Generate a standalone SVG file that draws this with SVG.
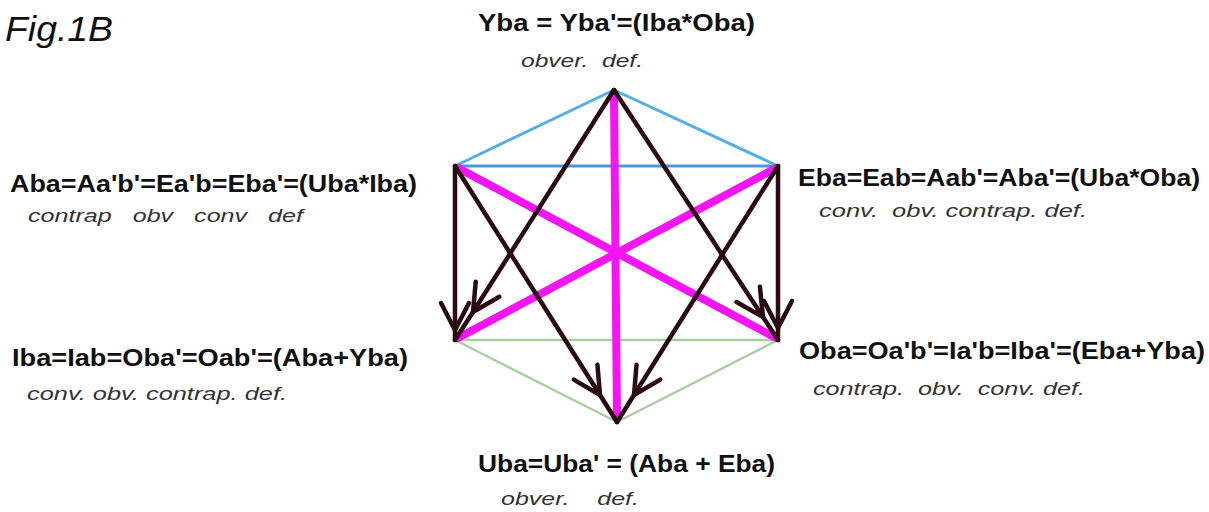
<svg xmlns="http://www.w3.org/2000/svg" width="1209" height="512" viewBox="0 0 1209 512">
  <style>
    .lbl { font-family: "Liberation Sans", Arial, sans-serif; font-weight: bold; font-size: 24px; fill: #111; }
    .sub { font-family: "Liberation Sans", Arial, sans-serif; font-style: italic; font-size: 19px; fill: #333; white-space: pre; }
    .fig { font-family: "Liberation Sans", Arial, sans-serif; font-style: italic; font-size: 35px; fill: #111; }
    .blue { stroke: #55aee6; stroke-width: 3; fill: none; stroke-linecap: round; }
    .green { stroke: #a9cfa0; stroke-width: 2.5; fill: none; stroke-linecap: round; }
    .mag { stroke: #f414f4; stroke-width: 8; fill: none; stroke-linecap: round; }
    .arr { stroke: #2a0c10; stroke-width: 4.5; fill: none; stroke-linecap: round; stroke-linejoin: round; marker-mid: url(#chev); }
  </style>
  <defs>
    <marker id="chev" markerUnits="userSpaceOnUse" orient="auto" refX="0" refY="0" markerWidth="40" markerHeight="40" viewBox="-32 -20 40 40" overflow="visible">
      <path d="M-27,-14 L0,0 L-27,14" fill="none" stroke="#2a0c10" stroke-width="4.5" stroke-linecap="round" stroke-linejoin="round"/>
    </marker>
  </defs>

  <text class="fig" x="5" y="41" textLength="108" lengthAdjust="spacingAndGlyphs">Fig.1B</text>

  <g id="connectors">
    <line class="blue" x1="614" y1="90" x2="455" y2="166"/>
    <line class="blue" x1="614" y1="90" x2="778" y2="166"/>
    <line class="blue" x1="455" y1="166" x2="778" y2="166" style="stroke:#4a98d6"/>
    <line class="green" x1="455" y1="340" x2="778" y2="340"/>
    <line class="green" x1="455" y1="340" x2="617" y2="422"/>
    <line class="green" x1="778" y1="340" x2="617" y2="422"/>
    <line class="mag" x1="614" y1="94" x2="617" y2="418"/>
    <line class="mag" x1="458" y1="168" x2="776" y2="338"/>
    <line class="mag" x1="776" y1="168" x2="458" y2="338"/>
    <path class="arr" d="M455,166 L455,330 L455,340"/>
    <path class="arr" d="M614,90 L473,312 L455,340"/>
    <path class="arr" d="M455,166 L600,395 L617,422"/>
    <path class="arr" d="M778,166 L634,395 L617,422"/>
    <path class="arr" d="M614,90 L763,317 L778,340"/>
    <path class="arr" d="M778,166 L778,328 L778,340"/>
  </g>

  <g id="node-Y">
    <text class="lbl" x="478" y="31" textLength="277" lengthAdjust="spacingAndGlyphs">Yba = Yba'=(Iba*Oba)</text>
    <text class="sub" x="521" y="67" textLength="122" lengthAdjust="spacingAndGlyphs">obver.  def.</text>
  </g>
  <g id="node-A">
    <text class="lbl" x="10" y="192" textLength="407" lengthAdjust="spacingAndGlyphs">Aba=Aa'b'=Ea'b=Eba'=(Uba*Iba)</text>
    <text class="sub" x="28" y="222" textLength="275" lengthAdjust="spacingAndGlyphs">contrap   obv   conv   def</text>
  </g>
  <g id="node-E">
    <text class="lbl" x="798" y="186" textLength="402" lengthAdjust="spacingAndGlyphs">Eba=Eab=Aab'=Aba'=(Uba*Oba)</text>
    <text class="sub" x="819" y="217" textLength="268" lengthAdjust="spacingAndGlyphs">conv.  obv. contrap. def.</text>
  </g>
  <g id="node-I">
    <text class="lbl" x="12" y="366" textLength="396" lengthAdjust="spacingAndGlyphs">Iba=Iab=Oba'=Oab'=(Aba+Yba)</text>
    <text class="sub" x="27" y="400" textLength="260" lengthAdjust="spacingAndGlyphs">conv. obv. contrap. def.</text>
  </g>
  <g id="node-O">
    <text class="lbl" x="799" y="359" textLength="406" lengthAdjust="spacingAndGlyphs">Oba=Oa'b'=Ia'b=Iba'=(Eba+Yba)</text>
    <text class="sub" x="813" y="395" textLength="272" lengthAdjust="spacingAndGlyphs">contrap.  obv.  conv. def.</text>
  </g>
  <g id="node-U">
    <text class="lbl" x="478" y="472" textLength="297" lengthAdjust="spacingAndGlyphs">Uba=Uba' = (Aba + Eba)</text>
    <text class="sub" x="501" y="505" textLength="138" lengthAdjust="spacingAndGlyphs">obver.    def.</text>
  </g>
</svg>
